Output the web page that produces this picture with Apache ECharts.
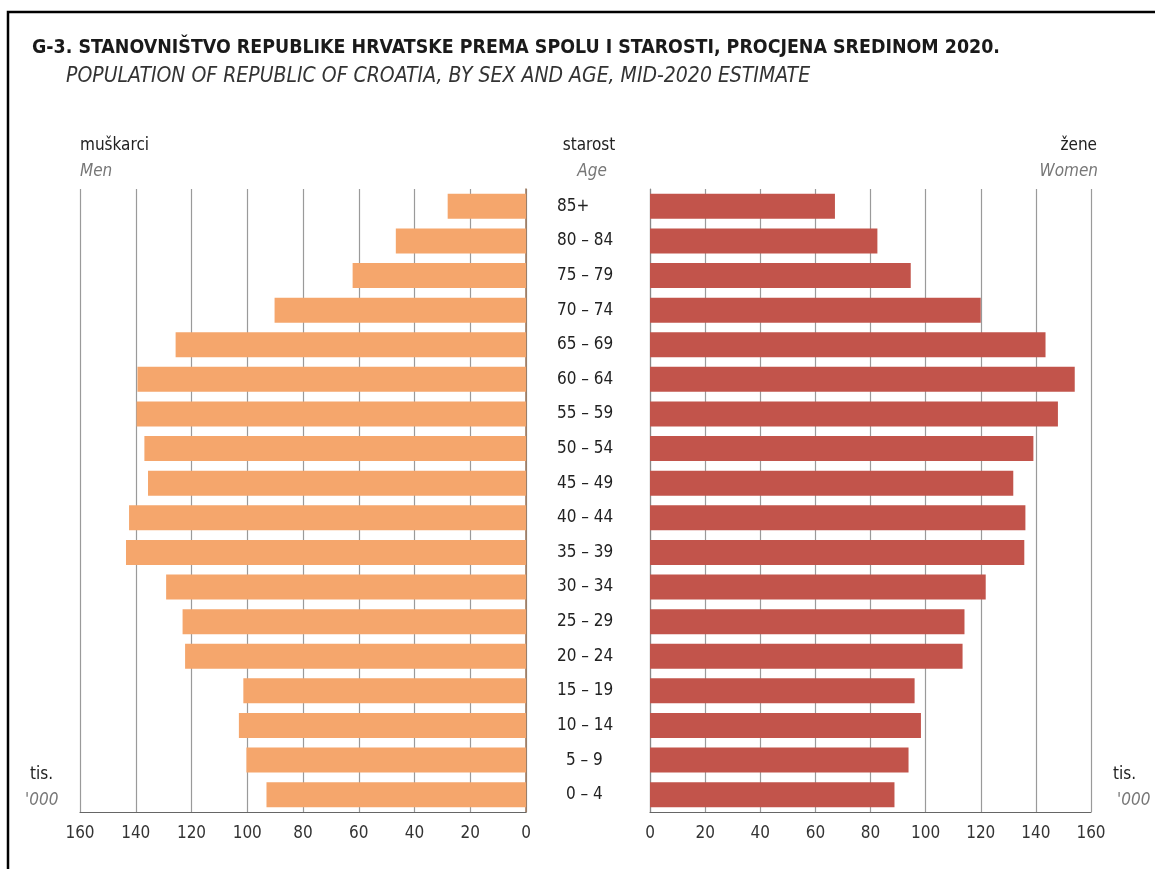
<!DOCTYPE html>
<html>
<head>
<meta charset="utf-8">
<title>G-3 Stanovništvo RH 2020</title>
<script src="https://cdn.jsdelivr.net/npm/echarts@6/dist/echarts.min.js"></script>
<style>
  html, body { margin: 0; padding: 0; background: #fff; }
  #chart { width: 1155px; height: 869px; }
</style>
</head>
<body>
<div id="chart"></div>
<script>
// dobne skupine, od najstarije prema najmlađoj (odozgo prema dolje)
var ageGroups = ['85+', '80 – 84', '75 – 79', '70 – 74', '65 – 69', '60 – 64', '55 – 59', '50 – 54', '45 – 49',
  '40 – 44', '35 – 39', '30 – 34', '25 – 29', '20 – 24', '15 – 19', '10 – 14', '5 – 9', '0 – 4'];
// tisuće
var men = [28.1, 46.7, 62.2, 90.2, 125.7, 139.4, 139.7, 136.9, 135.6, 142.4, 143.5, 129.1, 123.2, 122.3, 101.4, 103.0, 100.3, 93.1];
var women = [67.1, 82.5, 94.6, 120.0, 143.5, 154.1, 148.0, 139.1, 131.8, 136.2, 135.8, 121.8, 114.1, 113.4, 96.0, 98.3, 93.8, 88.7];
var axisMax = 160;
var axisStep = 20;

var FONT = "'Liberation Sans Narrow', 'DejaVu Sans Condensed', sans-serif";
var menColor = '#F5A66C';
var womenColor = '#C2544B';

var chart = echarts.init(document.getElementById('chart'));

function valueAxis(gridIndex, inverse) {
  return {
    type: 'value',
    gridIndex: gridIndex,
    min: 0,
    max: axisMax,
    interval: axisStep,
    inverse: inverse,
    axisLine: { show: true, lineStyle: { color: '#666', width: 1.2 } },
    axisTick: { show: false },
    axisLabel: { fontFamily: FONT, fontSize: 17, color: '#333', margin: 13 },
    splitLine: { show: true, lineStyle: { color: '#9a9a9a', width: 1.2 } }
  };
}

function labelText(x, y, text, opts) {
  return {
    type: 'text', x: x, y: y,
    style: Object.assign({
      text: text, fontFamily: FONT, fontSize: 17, fill: '#222',
      textAlign: 'left', textVerticalAlign: 'middle'
    }, opts || {})
  };
}

var option = {
  animation: false,
  title: [
    {
      text: 'G-3. STANOVNIŠTVO REPUBLIKE HRVATSKE PREMA SPOLU I STAROSTI, PROCJENA SREDINOM 2020.',
      left: 27, top: 33,
      textStyle: { fontFamily: FONT, fontSize: 19.4, fontWeight: 'bold', color: '#1a1a1a' }
    },
    {
      text: 'POPULATION OF REPUBLIC OF CROATIA, BY SEX AND AGE, MID-2020 ESTIMATE',
      left: 61, top: 61,
      textStyle: { fontFamily: FONT, fontSize: 21, fontWeight: 'normal', fontStyle: 'italic', color: '#333' }
    }
  ],
  grid: [
    { left: 80, right: 629, top: 189, height: 623 },
    { left: 650, right: 64, top: 189, height: 623 }
  ],
  xAxis: [valueAxis(0, true), valueAxis(1, false)],
  yAxis: [
    {
      type: 'category', gridIndex: 0, data: ageGroups, inverse: true, position: 'right',
      axisLine: { show: true, lineStyle: { color: '#9a7558', width: 1.5 } },
      axisTick: { show: false },
      axisLabel: {
        margin: 31, align: 'left', fontFamily: FONT, fontSize: 17, color: '#222',
        formatter: function (v) {
          // jednoznamenkaste skupine su poravnate po crtici
          return /^\d /.test(v) ? '{p|' + v + '}' : v;
        },
        rich: { p: { padding: [0, 0, 0, 9], fontFamily: FONT, fontSize: 17, color: '#222' } }
      }
    },
    {
      type: 'category', gridIndex: 1, data: ageGroups, inverse: true,
      axisLine: { show: true, lineStyle: { color: '#888', width: 1.2 } },
      axisTick: { show: false },
      axisLabel: { show: false }
    }
  ],
  series: [
    {
      name: 'Men', type: 'bar', xAxisIndex: 0, yAxisIndex: 0, data: men,
      barWidth: 25, itemStyle: { color: menColor }
    },
    {
      name: 'Women', type: 'bar', xAxisIndex: 1, yAxisIndex: 1, data: women,
      barWidth: 25, itemStyle: { color: womenColor }
    }
  ],
  graphic: [
    // okvir
    { type: 'rect', shape: { x: 8, y: 12, width: 1300, height: 1000 },
      style: { fill: 'none', stroke: '#000', lineWidth: 2.5 }, silent: true },
    labelText(80, 146, 'muškarci'),
    labelText(80, 172, 'Men', { fontStyle: 'italic', fill: '#777' }),
    labelText(589, 146, 'starost', { textAlign: 'center' }),
    labelText(592, 172, 'Age', { textAlign: 'center', fontStyle: 'italic', fill: '#777' }),
    labelText(1097, 146, 'žene', { textAlign: 'right' }),
    labelText(1098, 172, 'Women', { textAlign: 'right', fontStyle: 'italic', fill: '#777' }),
    labelText(30, 775, 'tis.'),
    labelText(25, 801, '\'000', { fontStyle: 'italic', fill: '#777' }),
    labelText(1113, 775, 'tis.'),
    labelText(1117, 801, '\'000', { fontStyle: 'italic', fill: '#777' })
  ]
};

chart.setOption(option);
</script>
</body>
</html>
